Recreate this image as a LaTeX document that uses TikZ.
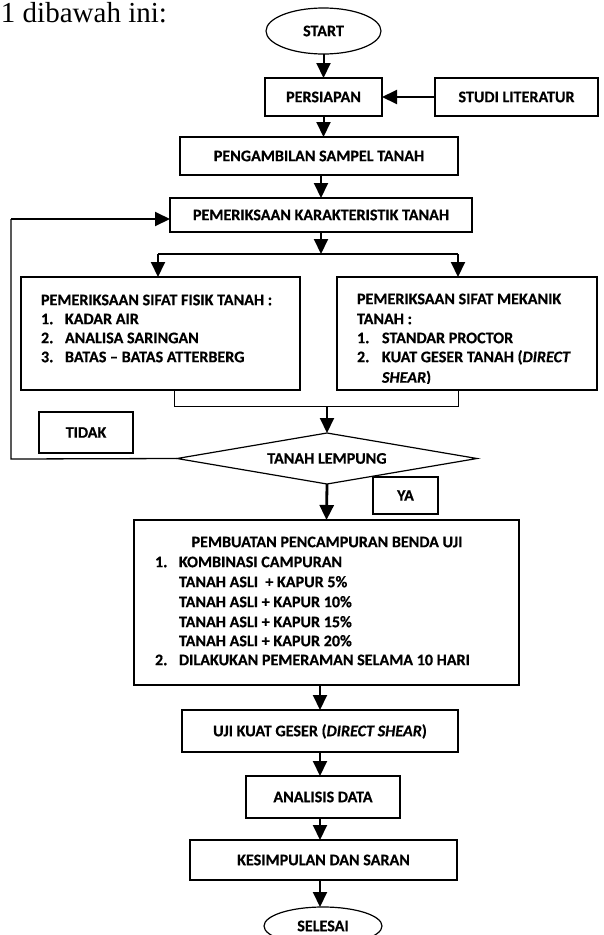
\documentclass[tikz,border=0pt]{standalone}
\usepackage{fontspec}
\setmainfont{Carlito}[BoldFeatures={FakeBold=0.5}, BoldItalicFeatures={FakeBold=0.5}]
\newfontfamily\timesf{Liberation Serif}
\usetikzlibrary{arrows.meta,shapes.geometric}
\begin{document}
\begin{tikzpicture}[x=1pt,y=-1pt,
  every node/.style={inner sep=0pt, outer sep=0pt},
  lbl/.style={font=\fontsize{16.1}{19.5}\selectfont\bfseries, text height=10.4pt, text depth=0pt},
  box/.style={draw, line width=1.2pt, rectangle, lbl},
  oval/.style={draw, line width=1.2pt, ellipse, lbl},
  arr/.style={line width=2pt, -{Triangle[width=14pt,length=15pt]}},
  ln/.style={line width=1pt},
  fb/.style={line width=1.3pt},
  item/.style={lbl, anchor=west},
]
\useasboundingbox (0,0) rectangle (604,935);
\clip (0,0) rectangle (604,935);

% intro text
\node[font=\timesf\fontsize{29}{34}\selectfont, anchor=base west] (intro) at (1,22) {1 dibawah ini:};

% main nodes
\node[oval, minimum width=115pt, minimum height=46pt] (start) at (323.5,31) {START};
\node[box, minimum width=117pt, minimum height=38pt] (prep) at (323.5,97) {PERSIAPAN};
\node[box, minimum width=163pt, minimum height=38pt] (studi) at (516.5,97) {STUDI LITERATUR};
\node[box, minimum width=278pt, minimum height=38pt] (ambil) at (319,156) {PENGAMBILAN SAMPEL TANAH};
\node[box, minimum width=302pt, minimum height=34pt] (karak) at (321,215) {PEMERIKSAAN KARAKTERISTIK TANAH};

\node[box, minimum width=279pt, minimum height=113pt] (fisik) at (160.5,333.5) {};
\node[box, minimum width=260pt, minimum height=113pt] (meka) at (467,333.5) {};

\node[item] (f0) at (41,300) {PEMERIKSAAN SIFAT FISIK TANAH :};
\node[item] (f1) at (41,319) {\makebox[24pt][l]{1.}KADAR AIR};
\node[item] (f2) at (41,338) {\makebox[24pt][l]{2.}ANALISA SARINGAN};
\node[item] (f3) at (41,357) {\makebox[24pt][l]{3.}BATAS -- BATAS ATTERBERG};

\node[item] (m0) at (357,299) {PEMERIKSAAN SIFAT MEKANIK};
\node[item] (m1) at (357,319) {TANAH :};
\node[item] (m2) at (357,338) {\makebox[25pt][l]{1.}STANDAR PROCTOR};
\node[item] (m3) at (357,357) {\makebox[25pt][l]{2.}KUAT GESER TANAH (\textit{DIRECT}};
\begin{scope}
\clip (338,370) rectangle (596,383);
\node[item] (m4) at (382,377.5) {\textit{SHEAR})};
\end{scope}

\node[box, minimum width=94pt, minimum height=41pt] (tidak) at (86,432.5) {TIDAK};
\node[draw, line width=1.2pt, diamond, aspect=6, minimum width=300pt, minimum height=51pt, lbl] (dia) at (327,458.5) {TANAH LEMPUNG};
\node[box, minimum width=65pt, minimum height=37pt] (ya) at (405.5,495.5) {YA};

\node[box, minimum width=385pt, minimum height=165pt] (buat) at (326.5,602.5) {};
\node[lbl] (b0) at (327,542) {PEMBUATAN PENCAMPURAN BENDA UJI};
\node[item] (b1) at (155,562) {\makebox[24pt][l]{1.}KOMBINASI CAMPURAN};
\node[item] (b2) at (179,582) {TANAH ASLI\ \ + KAPUR 5\%};
\node[item] (b3) at (179,602) {TANAH ASLI + KAPUR 10\%};
\node[item] (b4) at (179,622) {TANAH ASLI + KAPUR 15\%};
\node[item] (b5) at (179,641) {TANAH ASLI + KAPUR 20\%};
\node[item] (b6) at (155,660) {\makebox[24pt][l]{2.}DILAKUKAN PEMERAMAN SELAMA 10 HARI};

\node[box, minimum width=276pt, minimum height=42pt] (uji) at (320,731) {UJI KUAT GESER (\textit{DIRECT SHEAR})};
\node[box, minimum width=154pt, minimum height=42pt] (anal) at (323,797) {ANALISIS DATA};
\node[box, minimum width=267pt, minimum height=40pt] (kesi) at (323.5,860) {KESIMPULAN DAN SARAN};
\node[oval, minimum width=118pt, minimum height=38pt] (akhir) at (323,926) {SELESAI};

% coordinates
\coordinate (br) at (321,254);
\coordinate (brL) at (158,254);
\coordinate (brR) at (458,254);
\coordinate (mL) at (174,406);
\coordinate (mR) at (458,406);
\coordinate (mC) at (327,406);
\coordinate (fb1) at (11,459);
\coordinate (fb2) at (11,219);
\coordinate (lowx) at (320,0);

% connectors
\draw[arr] (start) -- (prep);
\draw[arr] (studi.west) -- (prep.east);
\draw[arr] (prep.south) -- (prep.south |- ambil.north);
\draw[arr] (karak.north |- ambil.south) -- (karak.north);
\draw[arr] (karak.south) -- (br);
\draw[fb] (brL) -- (brR);
\draw[arr] (brL) -- (brL |- fisik.north);
\draw[arr] (brR) -- (brR |- meka.north);
\draw[ln] (mL |- fisik.south) -- (mL) -- (mR) -- (mR |- meka.south);
\draw[arr] (mC) -- (dia.north);
\draw[fb] (dia.west) -- (fb1) -- (fb2);
\draw[arr] (fb2) -- (fb2 -| karak.west);
\draw[arr, line width=2.8pt] (dia.south) -- (buat.north);
\draw[arr] (lowx |- buat.south) -- (lowx |- uji.north);
\draw[arr] (lowx |- uji.south) -- (lowx |- anal.north);
\draw[arr] (lowx |- anal.south) -- (lowx |- kesi.north);
\draw[arr] (lowx |- kesi.south) -- (lowx |- akhir.north);
\end{tikzpicture}
\end{document}
